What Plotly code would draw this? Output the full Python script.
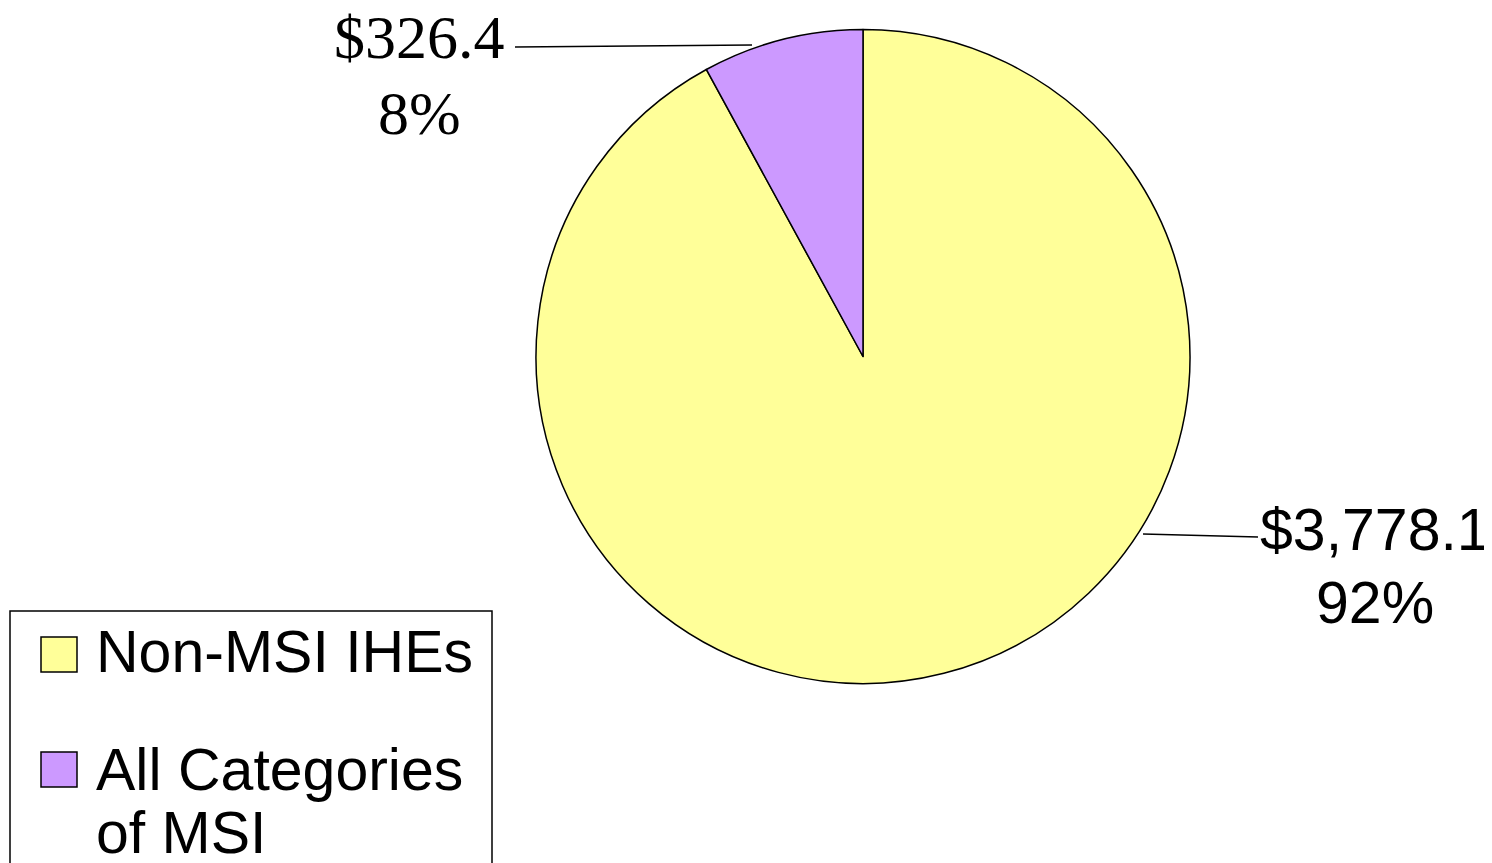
import plotly.graph_objects as go

labels = ["Non-MSI IHEs", "All Categories of MSI"]
legend_lines = [["Non-MSI IHEs"], ["All Categories", "of MSI"]]
values = [3778.1, 326.4]
colors = ["#FFFF99", "#CC99FF"]

W, H = 1492, 863
OFF = 8  # page body margin
total = sum(values)

def px(x):
    return (x - OFF) / W

def py(y):
    return 1 - (y - OFF) / H

fig = go.Figure(go.Pie(
    labels=labels, values=values, sort=False, direction="clockwise", rotation=0,
    marker=dict(colors=colors, line=dict(color="black", width=1.5)),
    textinfo="none", hoverinfo="label+value+percent", showlegend=False,
    domain=dict(x=[px(536), px(1190)], y=[py(684), py(29)]),
))

shapes = []
annotations = []

label_specs = [
    (0, (1143, 534, 1258, 537), 1375, [530, 603], dict(family="Liberation Sans, Arial", size=59, color="black")),
    (1, (515, 47, 752, 45), 419, [37, 113], dict(family="Liberation Serif, Times New Roman", size=62, color="black")),
]
for idx, (x0, y0, x1, y1), cx, ys, font in label_specs:
    shapes.append(dict(type="line", xref="paper", yref="paper",
                       x0=px(x0), y0=py(y0), x1=px(x1), y1=py(y1),
                       line=dict(color="black", width=1.5)))
    pct = values[idx] / total * 100
    lines = [f"${values[idx]:,.1f}", f"{pct:.0f}%"]
    for t, yc in zip(lines, ys):
        annotations.append(dict(text=t, xref="paper", yref="paper", x=px(cx), y=py(yc),
                                xanchor="center", yanchor="middle", showarrow=False, font=font))

# custom legend
shapes.append(dict(type="rect", xref="paper", yref="paper", x0=px(10), x1=px(492),
                   y0=py(611), y1=py(880), line=dict(color="black", width=1.5), fillcolor="white", layer="below"))
sym_tops = [637, 752]
text_centers = [[652], [770, 833]]
for i, lab in enumerate(labels):
    shapes.append(dict(type="rect", xref="paper", yref="paper", x0=px(41), x1=px(77),
                       y0=py(sym_tops[i]), y1=py(sym_tops[i] + 35),
                       line=dict(color="black", width=1.5), fillcolor=colors[i]))
    for t, yc in zip(legend_lines[i], text_centers[i]):
        annotations.append(dict(text=t, xref="paper", yref="paper", x=px(94), y=py(yc),
                                xanchor="left", yanchor="middle", showarrow=False,
                                font=dict(family="Liberation Sans, Arial", size=59, color="black")))

fig.update_layout(
    width=W, height=H, margin=dict(l=0, r=0, t=0, b=0),
    paper_bgcolor="white", plot_bgcolor="white",
    shapes=shapes, annotations=annotations, showlegend=False,
)
fig.write_html("out.html")
